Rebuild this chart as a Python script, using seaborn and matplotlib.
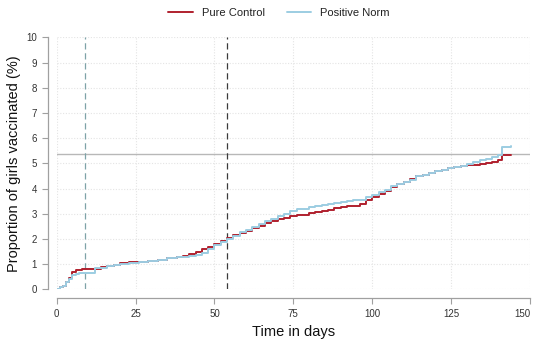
import numpy as np
import pandas as pd
import matplotlib
matplotlib.use("Agg")
import matplotlib.pyplot as plt
import seaborn as sns

# ---- data ----
days = [0, 1, 2, 3, 4, 5, 6, 7, 8, 10, 12, 14, 16, 18, 20, 23, 26, 29, 32, 35, 38,
        40, 42, 44, 46, 48, 50, 52, 54, 56, 58, 60, 62, 64, 66, 68, 70, 72, 74, 76,
        78, 80, 82, 84, 86, 88, 90, 92, 94, 96, 98, 100, 102, 104, 106, 108, 110,
        112, 114, 116, 118, 120, 122, 124, 126, 128, 130, 132, 134, 136, 138, 140,
        141, 144]
pure_control = [0.02, 0.08, 0.15, 0.30, 0.45, 0.68, 0.75, 0.78, 0.80, 0.80, 0.82, 0.87,
                0.93, 0.98, 1.03, 1.07, 1.10, 1.12, 1.18, 1.24, 1.30, 1.34, 1.42, 1.50,
                1.58, 1.66, 1.80, 1.90, 2.02, 2.15, 2.24, 2.32, 2.42, 2.52, 2.62, 2.70,
                2.78, 2.82, 2.90, 2.95, 2.96, 3.02, 3.08, 3.10, 3.14, 3.22, 3.28, 3.30,
                3.32, 3.38, 3.55, 3.68, 3.80, 3.92, 4.06, 4.16, 4.25, 4.36, 4.48, 4.55,
                4.62, 4.68, 4.75, 4.80, 4.84, 4.88, 4.92, 4.95, 4.98, 5.02, 5.06, 5.12,
                5.33, 5.33]
positive_norm = [0.02, 0.08, 0.15, 0.28, 0.40, 0.55, 0.60, 0.63, 0.63, 0.63, 0.83, 0.86,
                 0.92, 0.98, 1.02, 1.06, 1.10, 1.12, 1.18, 1.24, 1.28, 1.30, 1.32, 1.38,
                 1.44, 1.58, 1.75, 1.86, 2.00, 2.12, 2.26, 2.36, 2.48, 2.58, 2.70, 2.80,
                 2.90, 3.00, 3.10, 3.18, 3.20, 3.25, 3.30, 3.34, 3.38, 3.42, 3.48, 3.50,
                 3.53, 3.56, 3.65, 3.76, 3.85, 3.95, 4.08, 4.18, 4.25, 4.35, 4.48, 4.55,
                 4.62, 4.68, 4.75, 4.80, 4.86, 4.90, 4.96, 5.05, 5.12, 5.18, 5.24, 5.32,
                 5.63, 5.70]
groups = ["Pure Control", "Positive Norm"]
vlines = [9, 54]
hline = 5.37
x_ticks = [0, 25, 50, 75, 100, 125, 150]
y_ticks = list(range(0, 11))

df = pd.DataFrame({
    "t": days + days,
    "v": pure_control + positive_norm,
    "group": [groups[0]] * len(days) + [groups[1]] * len(days),
})

sns.set_theme(style="white")
plt.rcParams["font.family"] = ["Liberation Sans", "DejaVu Sans"]

fig = plt.figure(figsize=(5.36, 3.41), dpi=100)
ax = fig.add_axes([0.1058, 0.1516, 0.883, 0.739])

palette = {"Pure Control": "#B0202E", "Positive Norm": "#9CCDE2"}

for y in y_ticks:
    ax.axhline(y, color="#E4E4E4", lw=0.8, ls=(0, (1, 1.5)), zorder=0)
for x in x_ticks:
    ax.axvline(x, color="#E4E4E4", lw=0.8, ls=(0, (1, 1.5)), zorder=0)

sns.lineplot(data=df, x="t", y="v", hue="group", hue_order=groups, palette=palette,
             drawstyle="steps-post", estimator=None, lw=1.4, ax=ax, legend=True)

ax.axhline(hline, color="#B8B8B8", lw=1.0, zorder=1)
ax.axvline(vlines[0], color="#7FA3A8", lw=0.9, ls=(0, (5, 3)), zorder=1)
ax.axvline(vlines[1], color="#3A3A3A", lw=0.9, ls=(0, (5, 3)), zorder=1)

ax.set_xlim(0, 150)
ax.set_ylim(0, 10)
ax.set_xticks(x_ticks)
ax.set_yticks(y_ticks)

for s in ["top", "right"]:
    ax.spines[s].set_visible(False)
for s in ["left", "bottom"]:
    ax.spines[s].set_position(("outward", 6.3))
    ax.spines[s].set_color("#A0A0A0")
    ax.spines[s].set_linewidth(0.9)
ax.spines["left"].set_bounds(0, 10)
ax.spines["bottom"].set_bounds(0, 150)

ax.tick_params(axis="both", which="major", direction="out", length=4, width=0.8,
               color="#A0A0A0", labelsize=7, labelcolor="#333333", pad=4,
               left=True, bottom=True)
ax.get_xticklabels()[-1].set_horizontalalignment("right")

ax.set_xlabel("Time in days", fontsize=10.5, color="#111111", labelpad=4)
ax.set_ylabel("Proportion of girls vaccinated (%)", fontsize=10.5, color="#111111",
              labelpad=4)

leg = ax.legend(loc="lower center", bbox_to_anchor=(0.47, 1.06), ncol=2, frameon=False,
                fontsize=8, handlelength=2.2, columnspacing=2.0, handletextpad=0.8,
                borderaxespad=0)
for t in leg.get_texts():
    t.set_color("#222222")

fig.savefig("out.png", dpi=100)
